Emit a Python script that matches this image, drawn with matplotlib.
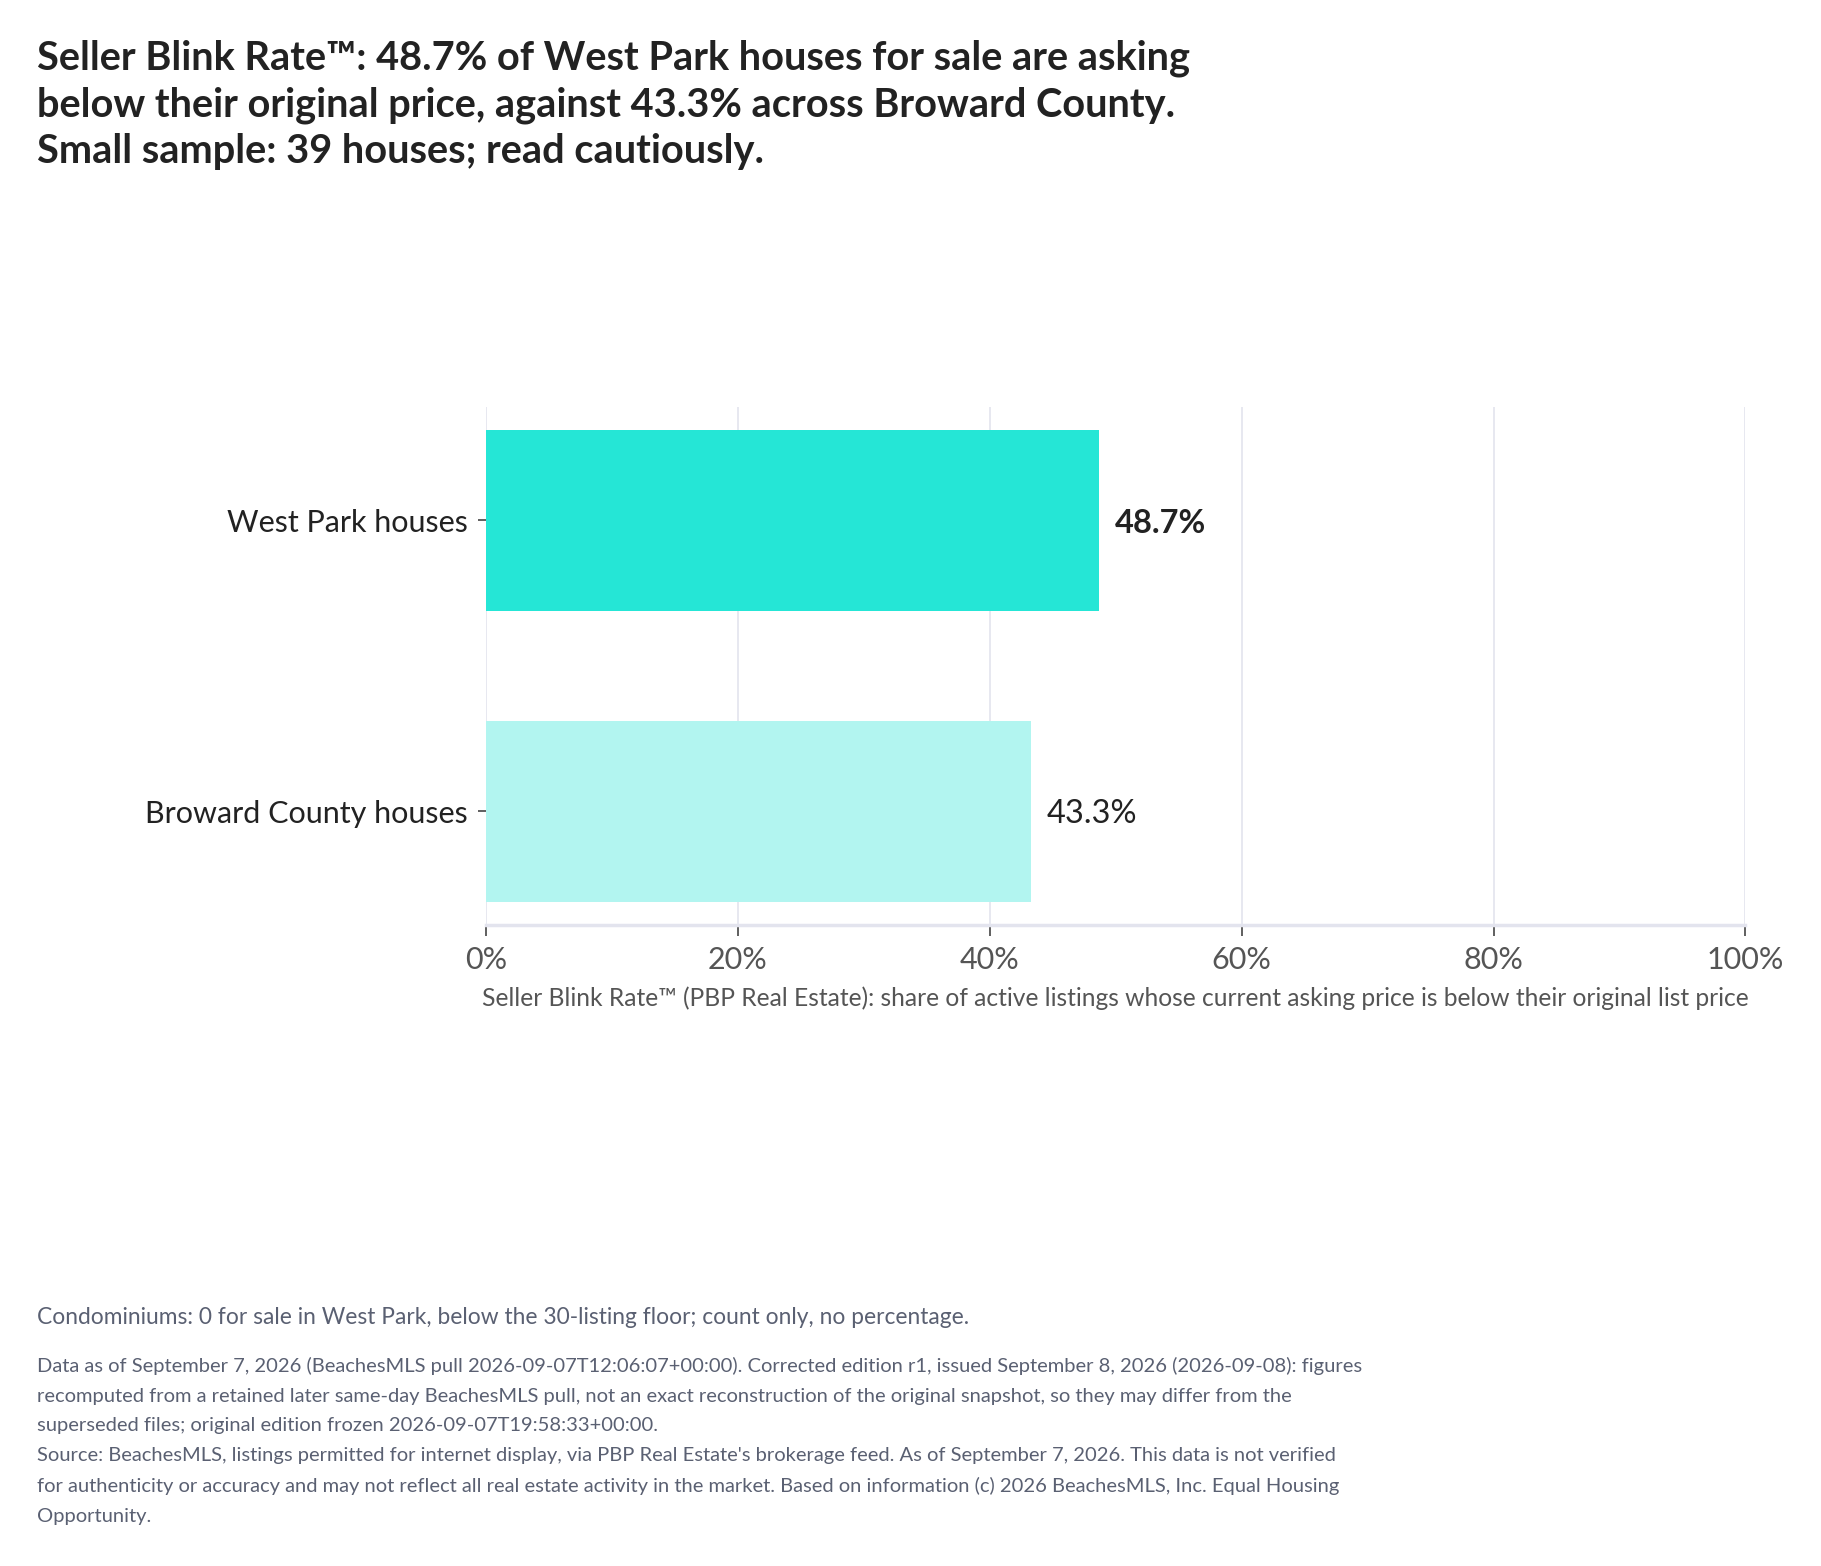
import matplotlib.pyplot as plt
from matplotlib.ticker import FuncFormatter

plt.rcParams['font.family'] = ['Lato', 'DejaVu Sans']

# data
categories = ['West Park houses', 'Broward County houses']
blink_rate = [48.7, 43.3]
bar_colors = ['#25e6d6', '#b2f5f0']
x_ticks = [0, 20, 40, 60, 80, 100]

title = ('Seller Blink Rate\u2122: 48.7% of West Park houses for sale are asking\n'
         'below their original price, against 43.3% across Broward County.\n'
         'Small sample: 39 houses; read cautiously.')
x_label = ('Seller Blink Rate\u2122 (PBP Real Estate): share of active listings whose '
           'current asking price is below their original list price')
condo_note = ('Condominiums: 0 for sale in West Park, below the 30-listing floor; '
              'count only, no percentage.')
source_note = (
    'Data as of September 7, 2026 (BeachesMLS pull 2026-09-07T12:06:07+00:00). Corrected edition r1, '
    'issued September 8, 2026 (2026-09-08): figures\n'
    'recomputed from a retained later same-day BeachesMLS pull, not an exact reconstruction of the '
    'original snapshot, so they may differ from the\n'
    'superseded files; original edition frozen 2026-09-07T19:58:33+00:00.\n'
    "Source: BeachesMLS, listings permitted for internet display, via PBP Real Estate's brokerage feed. "
    'As of September 7, 2026. This data is not verified\n'
    'for authenticity or accuracy and may not reflect all real estate activity in the market. Based on '
    'information (c) 2026 BeachesMLS, Inc. Equal Housing\n'
    'Opportunity.')

fig = plt.figure(figsize=(18.21, 15.66), dpi=100)
ax = fig.add_axes([0.2668, 0.4093, 0.6917, 0.331])

y_pos = list(range(len(categories)))
ax.barh(y_pos, blink_rate, height=0.62, color=bar_colors, zorder=2)

for i, v in enumerate(blink_rate):
    ax.text(v + 1.2, i + 0.01, f'{v:.1f}%', va='center', ha='left', fontsize=23.5,
            color='#222222', fontweight='bold' if i == 0 else 'normal')

ax.set_xlim(0, 100)
ax.set_ylim(1.39, -0.39)
ax.set_yticks(y_pos)
ax.set_yticklabels(categories, fontsize=22, color='#222222')
ax.set_xticks(x_ticks)
ax.xaxis.set_major_formatter(FuncFormatter(lambda v, p: f'{v:.0f}%'))
ax.tick_params(axis='x', labelsize=22, labelcolor='#555555', color='#444444',
               length=8, width=1.2, pad=7)
ax.tick_params(axis='y', color='#444444', length=6, width=1.2, pad=7)
ax.grid(axis='x', color='#e5e6ef', linewidth=1.3, zorder=0)

for s in ['top', 'right', 'left']:
    ax.spines[s].set_visible(False)
ax.spines['bottom'].set_color('#e3e4ee')
ax.spines['bottom'].set_linewidth(2.5)

ax.set_xlabel(x_label, fontsize=17.7, color='#555555', labelpad=9)

fig.text(0.0203, 0.9745, title, fontsize=28.6, fontweight='bold', color='#222222',
         va='top', ha='left', linespacing=1.3)
fig.text(0.0203, 0.1585, condo_note, fontsize=16.4, color='#5a6072', va='center', ha='left')
fig.text(0.0203, 0.1335, source_note, fontsize=14.5, color='#5a6072', va='top', ha='left',
         linespacing=1.9)

fig.savefig('out.png', dpi=100)
